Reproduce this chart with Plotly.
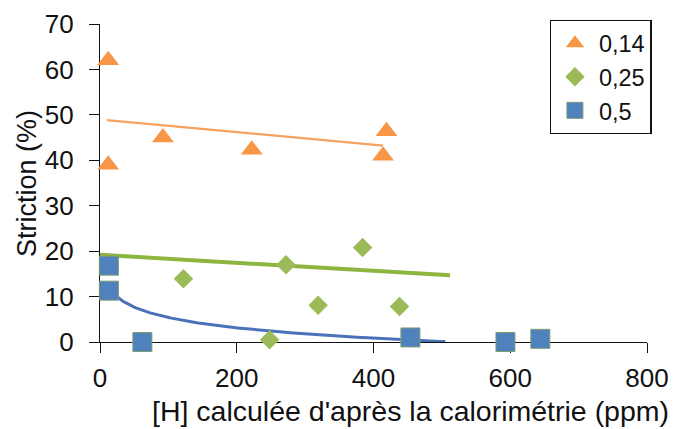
import numpy as np
import plotly.graph_objects as go

# ---- data ----
series_names = ["0,14", "0,25", "0,5"]

x_014 = [12, 12, 92, 222, 419, 414]
y_014 = [62.0, 39.0, 45.0, 42.3, 46.4, 41.0]

x_025 = [122, 248, 272, 319, 384, 438]
y_025 = [13.9, 0.5, 17.0, 8.1, 20.8, 7.8]

x_05 = [13, 13, 62, 454, 593, 644]
y_05 = [16.8, 11.3, 0.0, 1.0, 0.0, 0.7]

# trendlines as displayed (intercept, slope) and their x extent
trend_014_coef = [49.0, -0.0139]      # linear
trend_014_range = [10, 414]
trend_025_coef = [19.2, -0.0088]      # linear
trend_025_range = [0, 512]
trend_05_coef = [20.5, -3.28]         # logarithmic: a + b*ln(x)
trend_05_range = [13, 505]

x_ticks = [0, 200, 400, 600, 800]
y_ticks = [0, 10, 20, 30, 40, 50, 60, 70]

# ---- styles ----
FONT = "Liberation Sans, Arial, sans-serif"
c_orange = "#F79646"
c_green = "#9BBB59"
c_blue = "#4F81BD"

fig = go.Figure()

# trendlines
xl = np.array(trend_014_range, dtype=float)
fig.add_trace(go.Scatter(x=xl, y=trend_014_coef[0] + trend_014_coef[1] * xl, mode="lines",
                         line=dict(color="#F4A261", width=2.2), showlegend=False, hoverinfo="skip"))
xl = np.array(trend_025_range, dtype=float)
fig.add_trace(go.Scatter(x=xl, y=trend_025_coef[0] + trend_025_coef[1] * xl, mode="lines",
                         line=dict(color="#8DB640", width=4), showlegend=False, hoverinfo="skip"))
xl = np.linspace(trend_05_range[0], trend_05_range[1], 200)
fig.add_trace(go.Scatter(x=xl, y=trend_05_coef[0] + trend_05_coef[1] * np.log(xl), mode="lines",
                         line=dict(color="#4A72B8", width=3), showlegend=False, hoverinfo="skip"))

# markers
fig.add_trace(go.Scatter(x=x_014, y=y_014, mode="markers", name=series_names[0],
                         marker=dict(symbol="triangle-up", size=19, color=c_orange)))
fig.add_trace(go.Scatter(x=x_025, y=y_025, mode="markers", name=series_names[1],
                         marker=dict(symbol="diamond", size=15, color=c_green)))
fig.add_trace(go.Scatter(x=x_05, y=y_05, mode="markers", name=series_names[2],
                         marker=dict(symbol="square", size=19, color=c_blue,
                                     line=dict(color="#7E9C73", width=1))))

for tr in fig.data:
    tr.cliponaxis = False

# the page body adds an 8px offset, so the figure is 8px smaller with margins shifted
fig.update_layout(
    width=672, height=421,
    margin=dict(l=92, r=33.3, t=16.3, b=86.7),
    paper_bgcolor="white", plot_bgcolor="white",
    font=dict(family=FONT, size=26, color="#111111"),
    showlegend=True,
    legend=dict(x=0.822, y=1.012, xanchor="left", yanchor="top",
                bordercolor="#111111", borderwidth=1.3, bgcolor="white",
                font=dict(size=23.5), tracegroupgap=0, itemwidth=38),
    xaxis=dict(range=[0, 800], tickvals=x_ticks, ticks="outside", ticklen=10, tickwidth=1.3,
               tickcolor="#111111", showline=True, linecolor="#111111", linewidth=1.3,
               showgrid=False, zeroline=False, layer="below traces", automargin=False,
               tickfont=dict(size=26), ticklabelstandoff=3),
    yaxis=dict(range=[0, 70], tickvals=y_ticks, ticks="outside", ticklen=10, tickwidth=1.3,
               tickcolor="#111111", showline=True, linecolor="#111111", linewidth=1.3,
               showgrid=False, zeroline=False, layer="below traces", automargin=False,
               tickfont=dict(size=26), ticklabelstandoff=10),
    annotations=[
        dict(text="[H] calculée d'après la calorimétrie (ppm)", xref="paper", yref="paper",
             x=0.568, y=-0.216, xanchor="center", yanchor="middle", showarrow=False,
             font=dict(size=28.5)),
        dict(text="Striction (%)", xref="paper", yref="paper", x=-0.1335, y=0.5,
             xanchor="center", yanchor="middle", textangle=-90, showarrow=False,
             font=dict(size=27)),
    ],
)

fig.write_html("out.html")
